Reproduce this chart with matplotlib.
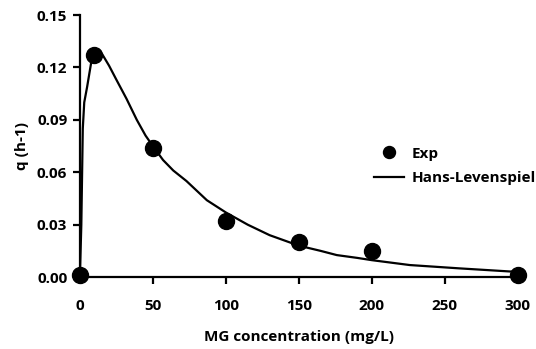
import matplotlib
matplotlib.use("Agg")
import matplotlib.pyplot as plt

plt.rcParams['font.family'] = ['Open Sans', 'DejaVu Sans']
plt.rcParams['font.weight'] = 'bold'

# experimental points
exp_x = [0, 10, 50, 100, 150, 200, 300]
exp_q = [0.001, 0.127, 0.074, 0.032, 0.020, 0.015, 0.001]

# Hans-Levenspiel fit
fit_x = [0, 1, 2, 3, 5, 8, 11, 15, 20, 25, 32, 39, 45, 50, 57, 64, 73, 87, 100,
         115, 130, 150, 165, 176, 190, 200, 226, 260, 299, 300]
fit_q = [0.0, 0.030, 0.085, 0.100, 0.109, 0.124, 0.130, 0.128, 0.121, 0.113, 0.102,
         0.090, 0.081, 0.075, 0.067, 0.061, 0.055, 0.044, 0.037,
         0.030, 0.024, 0.018, 0.015, 0.0126, 0.011, 0.0097, 0.0069, 0.005, 0.003, 0.003]

fig = plt.figure(figsize=(5.36, 3.49), dpi=100)
ax = fig.add_axes([0.149, 0.206, 0.817, 0.751])

ax.plot(exp_x, exp_q, 'o', color='black', markersize=11.5, label='Exp', clip_on=False, zorder=3)
ax.plot(fit_x, fit_q, '-', color='black', linewidth=1.6, label='Hans-Levenspiel', clip_on=False)

ax.set_xlim(0, 300)
ax.set_ylim(0, 0.15)
ax.set_xticks([0, 50, 100, 150, 200, 250, 300])
ax.set_yticks([0.00, 0.03, 0.06, 0.09, 0.12, 0.15])
ax.set_yticklabels(['0.00', '0.03', '0.06', '0.09', '0.12', '0.15'])

for s in ['top', 'right']:
    ax.spines[s].set_visible(False)
for s in ['left', 'bottom']:
    ax.spines[s].set_linewidth(1.6)
ax.tick_params(direction='out', length=5, width=1.6, labelsize=11, pad=4)
ax.tick_params(axis='x', pad=11)

ax.set_xlabel('MG concentration (mg/L)', fontsize=11, fontweight='bold', labelpad=12)
ax.set_ylabel('q (h-1)', fontsize=11, fontweight='bold', labelpad=6)

ax.legend(loc='upper left', bbox_to_anchor=(0.64, 0.55), frameon=False,
          fontsize=11, handlelength=2.0, handletextpad=0.5, labelspacing=0.7,
          markerscale=0.75)

fig.savefig('out.png', dpi=100)
